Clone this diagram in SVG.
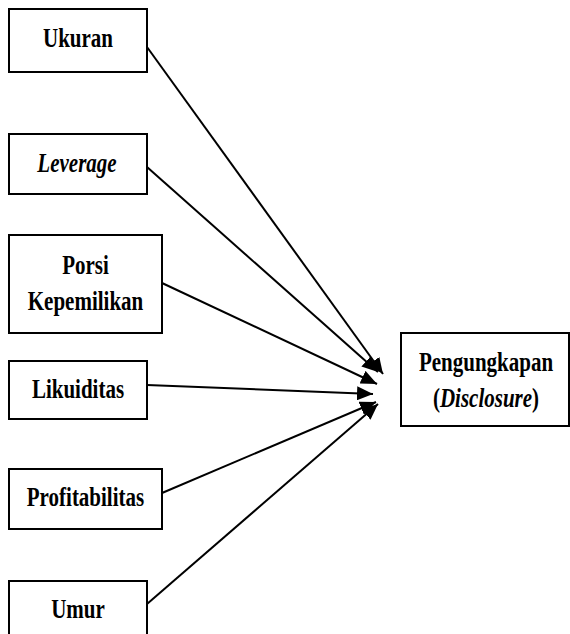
<svg xmlns="http://www.w3.org/2000/svg" width="570" height="634" viewBox="0 0 570 634">
<style>
.box{fill:#fff;stroke:#000;stroke-width:2}
.t{font-family:"Liberation Serif","Times New Roman",serif;font-weight:bold;font-size:21px;text-anchor:middle;fill:#000}
.i{font-style:italic}
.c{stroke:#000;stroke-width:2;fill:none;marker-end:url(#ah)}
</style>
<defs>
<marker id="ah" markerUnits="userSpaceOnUse" markerWidth="18" markerHeight="14" refX="16" refY="7" orient="auto">
<path d="M0,0 L16,7 L0,14 z" fill="#000"/>
</marker>
</defs>
<g id="connectors">
<line class="c" x1="147" y1="47" x2="383" y2="374"/>
<line class="c" x1="147" y1="167" x2="378" y2="372"/>
<line class="c" x1="162" y1="283" x2="377" y2="384"/>
<line class="c" x1="147" y1="385" x2="373" y2="394"/>
<line class="c" x1="162" y1="493" x2="376" y2="402"/>
<line class="c" x1="147" y1="604" x2="378" y2="404"/>
</g>
<g id="ukuran">
<rect class="box" x="9" y="9" width="138" height="63"/>
<text class="t" transform="translate(78,47) scale(1,1.35)">Ukuran</text>
</g>
<g id="leverage">
<rect class="box" x="9" y="134" width="138" height="60"/>
<text class="t i" transform="translate(77,172) scale(1,1.35)">Leverage</text>
</g>
<g id="porsi">
<rect class="box" x="9" y="235" width="153" height="98"/>
<text class="t" transform="translate(85.5,274) scale(1,1.35)">Porsi</text>
<text class="t" transform="translate(85.5,310) scale(1,1.35)">Kepemilikan</text>
</g>
<g id="likuiditas">
<rect class="box" x="9" y="361" width="138" height="58"/>
<text class="t" transform="translate(78,398) scale(1,1.35)">Likuiditas</text>
</g>
<g id="profitabilitas">
<rect class="box" x="9" y="469" width="153" height="60"/>
<text class="t" transform="translate(85.5,506) scale(1,1.35)">Profitabilitas</text>
</g>
<g id="umur">
<rect class="box" x="9" y="581" width="138" height="60"/>
<text class="t" transform="translate(78,618) scale(1,1.35)">Umur</text>
</g>
<g id="pengungkapan">
<rect class="box" x="401" y="333" width="168" height="93"/>
<text class="t" transform="translate(486,371) scale(1,1.35)">Pengungkapan</text>
<text class="t" transform="translate(486,407) scale(1,1.35)">(<tspan class="i">Disclosure</tspan>)</text>
</g>
</svg>
